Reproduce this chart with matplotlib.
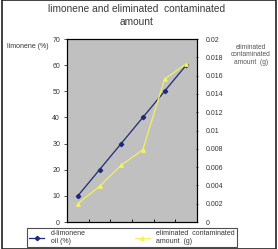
import matplotlib
matplotlib.use('Agg')
import matplotlib.pyplot as plt
from matplotlib.patches import Rectangle
import numpy as np

plt.rcParams['font.family'] = ['Liberation Sans', 'DejaVu Sans']

# data
samples = [1, 2, 3, 4, 5, 6]
limonene = [10, 20, 30, 40, 50, 60]
eliminated = [0.0020, 0.0039, 0.0062, 0.0079, 0.0156, 0.0173]
left_ticks = [0, 10, 20, 30, 40, 50, 60, 70]
right_ticks = [0, 0.002, 0.004, 0.006, 0.008, 0.01, 0.012, 0.014, 0.016, 0.018, 0.02]

W, H = 278, 249
fig = plt.figure(figsize=(W/100, H/100), dpi=100)
fig.patches.append(Rectangle((2/W, 0), 1-4/W, 1, transform=fig.transFigure,
                             fill=False, edgecolor='#222222', linewidth=1.2))

ax = fig.add_axes([67/W, 1-222/H, 130/W, 183/H])
ax.set_facecolor('#c0c0c0')
x = np.arange(len(samples))
ax.plot(x, limonene, '-D', color='#1c2a78', markersize=2.2, linewidth=0.9)
ax.set_xlim(-0.5, len(samples)-0.5)
ax.set_ylim(0, 70)
ax.set_yticks(left_ticks)
ax.set_xticks(np.arange(len(samples)+1)-0.5)
ax.set_xticklabels([])
ax.tick_params(axis='x', length=2, width=0.6, direction='in')
ax.tick_params(axis='y', labelsize=5, length=2, width=0.6, colors='#333333',
               pad=3)
for s in ax.spines.values():
    s.set_linewidth(0.8)

ax2 = ax.twinx()
ax2.plot(x, eliminated, '-^', color='#f2f25a', markersize=2.5, linewidth=0.9)
ax2.set_ylim(0, 0.02)
ax2.set_yticks(right_ticks)
ax2.set_yticklabels(['0' if t == 0 else ('%g' % t) for t in right_ticks])
ax2.tick_params(axis='y', labelsize=5, length=2, width=0.6, colors='#333333',
                direction='inout', pad=5)

fig.text(0.49, 1-9/H, 'limonene and eliminated  contaminated', ha='center',
         va='center', fontsize=7.3, color='#3a3a3a')
fig.text(0.49, 1-22/H, 'amount', ha='center', va='center', fontsize=7.3,
         color='#3a3a3a')
fig.text(28/W, 1-47/H, 'limonene (%)', ha='center', va='center', fontsize=5,
         color='#333333')
fig.text(251/W, 1-55/H, 'eliminated\ncontaminated\namount  (g)', ha='center',
         va='center', fontsize=4.8, color='#555555', linespacing=1.1)

h1, = ax.plot([], [], '-D', color='#1c2a78', markersize=2.2, linewidth=0.9)
h2, = ax.plot([], [], '-^', color='#f2f25a', markersize=2.5, linewidth=0.9)
leg = fig.legend([h1, h2], ['d-limonene\noil (%)', 'eliminated  contaminated\namount  (g)'],
                 ncol=2, loc='center', mode='expand',
                 bbox_to_anchor=(27/W, 1-247/H, 210/W, 19/H),
                 fontsize=5, frameon=True, fancybox=False, borderpad=0.3,
                 borderaxespad=0, handlelength=2.2, columnspacing=4.2,
                 handletextpad=0.9)
leg.get_frame().set_edgecolor('#222222')
leg.get_frame().set_linewidth(0.8)
for t in leg.get_texts():
    t.set_color('#333333')

fig.savefig('out.png', dpi=100)
